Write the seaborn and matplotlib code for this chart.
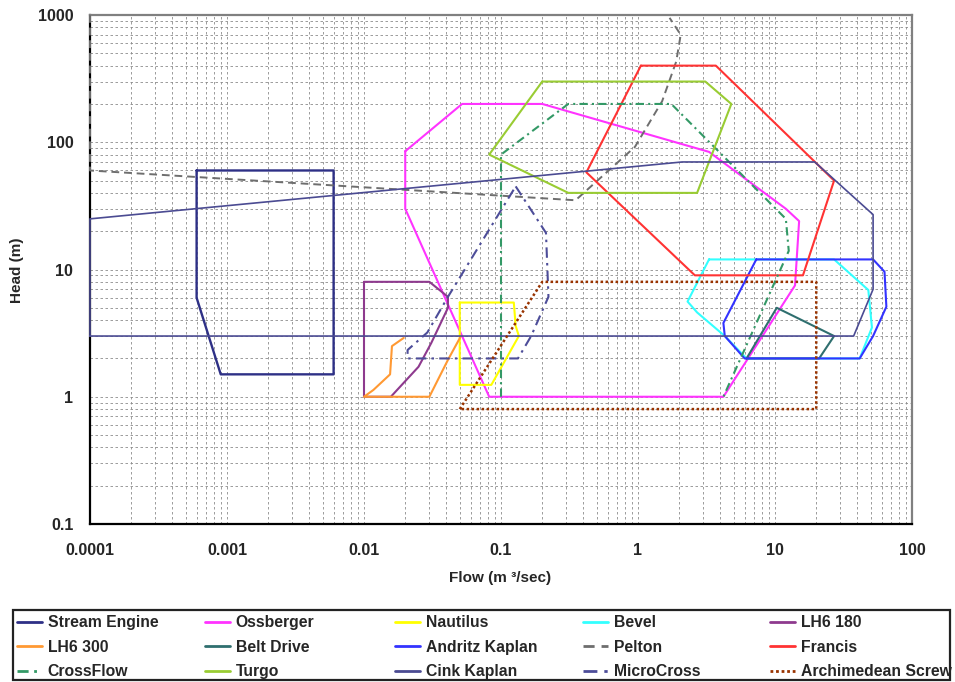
import matplotlib
matplotlib.use("Agg")
import matplotlib.pyplot as plt
from matplotlib.lines import Line2D
from matplotlib.patches import Rectangle
from matplotlib.ticker import LogLocator, NullFormatter
import seaborn as sns

sns.set_style("white")
plt.rcParams["font.family"] = ["Liberation Sans", "DejaVu Sans"]

# Operating envelopes of hydro turbines: flow (m3/s) and head (m) outlines
stream_engine_flow = [0.0006, 0.006, 0.006, 0.0009, 0.0006, 0.0006]
stream_engine_head = [60, 60, 1.5, 1.5, 6, 60]

ossberger_flow = [0.02, 0.052, 0.2, 3.3, 12, 15, 14, 4.2, 0.082, 0.02, 0.02]
ossberger_head = [85, 200, 200, 84, 30, 24, 7.5, 1, 1, 30, 85]

nautilus_flow = [0.05, 0.124, 0.128, 0.135, 0.085, 0.05, 0.05]
nautilus_head = [5.5, 5.5, 3.6, 3.0, 1.24, 1.24, 5.5]

bevel_flow = [3.3, 27, 48, 51, 41.5, 6.2, 4.3, 2.7, 2.3, 3.3]
bevel_head = [12, 12, 6.9, 3.5, 2, 2, 3, 4.6, 5.6, 12]

lh6_180_flow = [0.01, 0.03, 0.041, 0.041, 0.031, 0.025, 0.0157, 0.01, 0.01]
lh6_180_head = [8, 8, 6.1, 5.0, 2.65, 1.72, 1, 1, 8]

lh6_300_flow = [0.0195, 0.016, 0.0155, 0.0117, 0.01, 0.03, 0.041, 0.051]
lh6_300_head = [2.9, 2.5, 1.5, 1.13, 1, 1, 1.95, 3]

belt_drive_flow = [6.2, 10.3, 27, 21, 6.2]
belt_drive_head = [2, 5, 3, 2, 2]

andritz_flow = [7.3, 52, 63, 65, 52, 41.5, 6.0, 4.3, 4.2, 7.3]
andritz_head = [12, 12, 9.6, 5.1, 3, 2, 2, 3, 3.8, 12]

pelton_flow = [0.0001, 0.0001, 0.35, 0.95, 1.5, 1.9, 2.05, 1.7]
pelton_head = [1000, 60, 35, 92, 210, 430, 700, 950]

francis_flow = [1.05, 3.7, 27, 16, 2.6, 0.42, 1.05]
francis_head = [400, 400, 50, 9, 9, 58, 400]

crossflow_flow = [0.1, 0.1, 0.31, 1.75, 12, 12.6, 4.2]
crossflow_head = [1, 80, 200, 200, 25, 14, 1]

turgo_flow = [0.2, 3.1, 4.8, 2.7, 0.31, 0.082, 0.2]
turgo_head = [300, 300, 200, 40, 40, 80, 300]

cink_flow = [0.0001, 0.0001, 2.1, 19.5, 52, 52, 37.5, 0.0001]
cink_head = [3, 25, 70, 70, 27, 7, 3, 3]

microcross_flow = [0.128, 0.213, 0.222, 0.166, 0.133, 0.0208, 0.0208, 0.029, 0.041, 0.128]
microcross_head = [45, 19.4, 6.1, 3, 2, 2, 2.33, 3.2, 6.1, 45]

archimedean_flow = [0.05, 0.2, 20, 20, 0.05]
archimedean_head = [0.8, 8, 8, 0.8, 0.8]

series = [
    ("Stream Engine", stream_engine_flow, stream_engine_head, "#2E3086", "-", 1.7),
    ("Ossberger", ossberger_flow, ossberger_head, "#FF33FF", "-", 1.5),
    ("Nautilus", nautilus_flow, nautilus_head, "#FFFF00", "-", 1.5),
    ("Bevel", bevel_flow, bevel_head, "#33FFFF", "-", 1.5),
    ("LH6 180", lh6_180_flow, lh6_180_head, "#8E3A8E", "-", 1.5),
    ("LH6 300", lh6_300_flow, lh6_300_head, "#FF9933", "-", 1.5),
    ("Belt Drive", belt_drive_flow, belt_drive_head, "#2F6F6F", "-", 1.5),
    ("Andritz Kaplan", andritz_flow, andritz_head, "#3333FF", "-", 1.5),
    ("Pelton", pelton_flow, pelton_head, "#6E6E6E", (0, (4, 2.5)), 1.4),
    ("Francis", francis_flow, francis_head, "#FF3333", "-", 1.5),
    ("CrossFlow", crossflow_flow, crossflow_head, "#339966", (0, (4, 2, 1, 2)), 1.5),
    ("Turgo", turgo_flow, turgo_head, "#99CC33", "-", 1.5),
    ("Cink Kaplan", cink_flow, cink_head, "#4B4B92", "-", 1.2),
    ("MicroCross", microcross_flow, microcross_head, "#4D4D99", (0, (5, 2.5, 1.2, 2.5)), 1.5),
    ("Archimedean Screw", archimedean_flow, archimedean_head, "#993300", (0, (1, 1)), 1.8),
]

legend_rows = [
    ["Stream Engine", "Ossberger", "Nautilus", "Bevel", "LH6 180"],
    ["LH6 300", "Belt Drive", "Andritz Kaplan", "Pelton", "Francis"],
    ["CrossFlow", "Turgo", "Cink Kaplan", "MicroCross", "Archimedean Screw"],
]

x_ticks = [0.0001, 0.001, 0.01, 0.1, 1, 10, 100]
x_tick_labels = ["0.0001", "0.001", "0.01", "0.1", "1", "10", "100"]
y_ticks = [0.1, 1, 10, 100, 1000]
y_tick_labels = ["0.1", "1", "10", "100", "1000"]

W, H = 955, 682
fig = plt.figure(figsize=(W / 100, H / 100), dpi=100)
ax = fig.add_axes([90 / W, 1 - 524 / H, (912 - 90) / W, (524 - 15) / H])
ax.set_xscale("log")
ax.set_yscale("log")
ax.set_xlim(1e-4, 100)
ax.set_ylim(0.1, 1000)

styles = {}
for name, fx, hy, color, ls, lw in series:
    sns.lineplot(x=fx, y=hy, sort=False, estimator=None, color=color,
                 linewidth=lw, linestyle=ls, ax=ax, legend=False)
    ax.lines[-1].set_clip_on(False)
    ax.lines[-1].set_zorder(3)
    styles[name] = (color, ls, lw)

# grid: decade and sub-decade dashed lines
ax.xaxis.set_minor_locator(LogLocator(base=10, subs=range(2, 10), numticks=20))
ax.yaxis.set_minor_locator(LogLocator(base=10, subs=range(2, 10), numticks=20))
ax.xaxis.set_minor_formatter(NullFormatter())
ax.yaxis.set_minor_formatter(NullFormatter())
ax.grid(which="both", color="#8c8c8c", linestyle=(0, (3, 3)), linewidth=0.6, zorder=0)
ax.set_axisbelow(True)

ax.set_xticks(x_ticks, labels=x_tick_labels)
ax.set_yticks(y_ticks, labels=y_tick_labels)
ax.tick_params(which="major", direction="out", length=5, width=1.5, color="black",
               labelsize=11.5)
ax.tick_params(axis="x", which="major", pad=9)
ax.tick_params(axis="y", which="major", pad=7)
ax.tick_params(which="minor", length=0)
for lab in ax.get_xticklabels() + ax.get_yticklabels():
    lab.set_fontweight("bold")

for side in ["left", "bottom"]:
    ax.spines[side].set_color("black")
    ax.spines[side].set_linewidth(1.6)
for side in ["top", "right"]:
    ax.spines[side].set_color("#808080")
    ax.spines[side].set_linewidth(1.6)

fig.text(17 / W, 1 - 270 / H, "Head (m)", rotation=90, ha="center", va="center",
         fontsize=11, fontweight="bold")
fig.text(500 / W, 1 - 578 / H, "Flow (m ³/sec)", ha="center", va="center",
         fontsize=11, fontweight="bold")

# legend box with five evenly spaced columns
fig.patches.append(Rectangle((13 / W, 1 - 680 / H), (950 - 13) / W, 70 / H,
                             transform=fig.transFigure, fill=False,
                             edgecolor="#222222", linewidth=1.6))
col_x = [17, 205, 395, 583, 770]
for c, x0 in enumerate(col_x):
    names = [row[c] for row in legend_rows]
    handles = []
    for n in names:
        color, ls, lw = styles[n]
        handles.append(Line2D([0], [0], color=color, linestyle=ls, linewidth=2.0))
    fig.legend(handles, names, loc="upper left",
               bbox_to_anchor=(x0 / W, 1 - 615 / H), frameon=False,
               borderpad=0, borderaxespad=0, handlelength=1.6,
               handletextpad=0.35, labelspacing=0.62,
               prop={"size": 11.3, "weight": "bold"})

fig.savefig("out.png", dpi=100)
